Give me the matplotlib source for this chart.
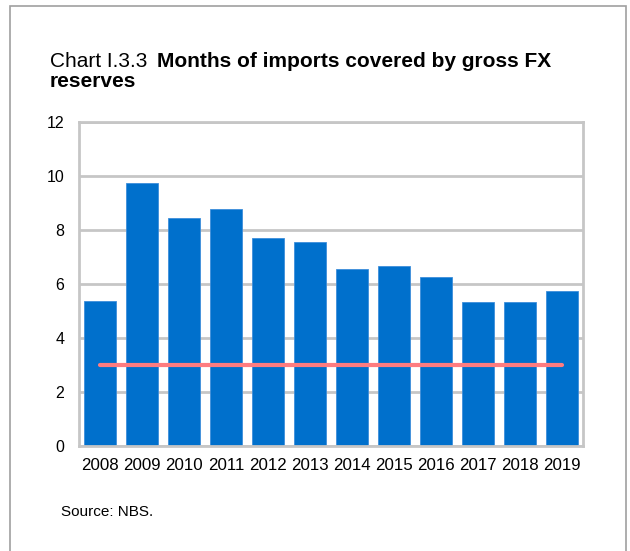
import matplotlib.pyplot as plt
from matplotlib.patches import Rectangle

# Months of imports covered by gross FX reserves
years = ['2008', '2009', '2010', '2011', '2012', '2013',
         '2014', '2015', '2016', '2017', '2018', '2019']
months_covered = [5.37, 9.73, 8.43, 8.78, 7.72, 7.56,
                  6.57, 6.68, 6.26, 5.35, 5.35, 5.74]
threshold = 3  # three-month benchmark

plt.rcParams['font.family'] = ['Liberation Sans', 'DejaVu Sans']

W, H = 630, 551
fig = plt.figure(figsize=(W / 100, H / 100), dpi=100)
ax = fig.add_axes([79 / W, 1 - 446 / H, 504 / W, 324 / H])

x = range(len(years))
ax.bar(x, months_covered, width=0.76, color='#0070CC',
       edgecolor='#3D8EDB', linewidth=0.6, zorder=2)
ax.plot([0, len(years) - 1], [threshold, threshold], color='#FF7C80',
        linewidth=3, solid_capstyle='round', zorder=3)

ax.set_xlim(-0.5, len(years) - 0.5)
ax.set_ylim(0, 12)
ax.set_yticks(range(0, 13, 2))
ax.set_xticks(list(x))
ax.set_xticklabels(years)
ax.tick_params(axis='both', length=0)
ax.tick_params(axis='y', pad=10.5, labelsize=11.5)
ax.tick_params(axis='x', pad=9, labelsize=12.2)
ax.yaxis.grid(True, color='#C6C6C6', linewidth=2)
ax.set_axisbelow(True)
for s in ax.spines.values():
    s.set_color('#C6C6C6')
    s.set_linewidth(2)

# title: regular prefix, bold remainder
fig.text(50 / W, 1 - 67 / H, 'Chart I.3.3', fontsize=15, va='baseline')
fig.text(157 / W, 1 - 67 / H, 'Months of imports covered by gross FX',
         fontsize=15, fontweight='bold', va='baseline')
fig.text(50 / W, 1 - 87 / H, 'reserves', fontsize=15,
         fontweight='bold', va='baseline')

fig.text(61 / W, 1 - 516 / H, 'Source: NBS.', fontsize=11, va='baseline')

# outer frame
fig.patches.append(Rectangle((10 / W, -0.01), 616 / W, 1 - 6 / H + 0.01,
                             transform=fig.transFigure, fill=False,
                             edgecolor='#A0A0A0', linewidth=1.2))

fig.savefig('out.png', dpi=100)
